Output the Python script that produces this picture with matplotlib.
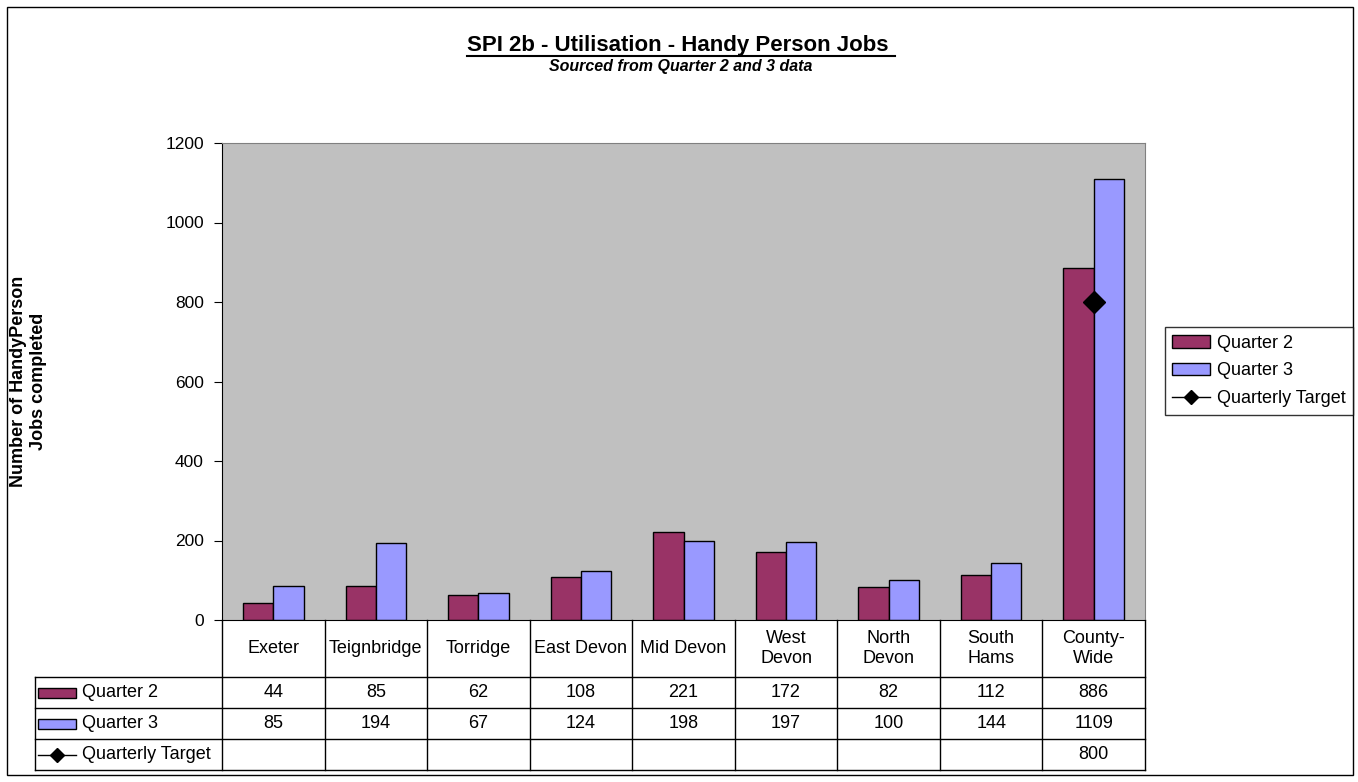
import matplotlib
matplotlib.use("Agg")
import matplotlib.pyplot as plt
import matplotlib.transforms as mtransforms
from matplotlib.lines import Line2D
from matplotlib.patches import Rectangle, Patch
import numpy as np

plt.rcParams["font.family"] = ["Liberation Sans", "DejaVu Sans"]

categories = ["Exeter", "Teignbridge", "Torridge", "East Devon", "Mid Devon",
              "West\nDevon", "North\nDevon", "South\nHams", "County-\nWide"]
quarter2 = [44, 85, 62, 108, 221, 172, 82, 112, 886]
quarter3 = [85, 194, 67, 124, 198, 197, 100, 144, 1109]
target = [None, None, None, None, None, None, None, None, 800]

q2_color = "#993366"
q3_color = "#9999FF"

fig = plt.figure(figsize=(13.58, 7.82), dpi=100)
fig.patches.append(Rectangle((7 / 1358, 7 / 782), 1346 / 1358, 768 / 782,
                             transform=fig.transFigure, fill=False,
                             edgecolor="black", linewidth=1.0))

ax = fig.add_axes([222 / 1358, 1 - 620 / 782, 923 / 1358, 477 / 782])
ax.set_facecolor("#C0C0C0")

x = np.arange(len(categories))
w = 0.295
ax.bar(x - w / 2, quarter2, w, color=q2_color, edgecolor="black", linewidth=1)
ax.bar(x + w / 2, quarter3, w, color=q3_color, edgecolor="black", linewidth=1)
tx = [i for i, v in enumerate(target) if v is not None]
ty = [v for v in target if v is not None]
ax.plot(tx, ty, color="black", marker="D", markersize=11)

ax.set_xlim(-0.5, len(categories) - 0.5)
ax.set_ylim(0, 1200)
ax.set_yticks(range(0, 1201, 200))
ax.set_xticks([])
ax.tick_params(axis="y", labelsize=12.5, length=6, direction="out", pad=7)
for s in ["top", "right"]:
    ax.spines[s].set_color("#808080")
ax.spines["bottom"].set_color("black")

ax.set_ylabel("Number of HandyPerson\nJobs completed", fontsize=13, fontweight="bold",
              labelpad=0)
ax.yaxis.set_label_coords(-0.19, 0.5)

fs = 13

# data table under the axes
trans = mtransforms.blended_transform_factory(ax.transData, ax.transAxes)
h = 477
rows = [0, -57 / h, -88 / h, -119 / h, -150 / h]
left = (35 - 222) / 923
lk = dict(color="black", linewidth=1, clip_on=False)
for xb in np.arange(-0.5, len(categories), 1.0):
    ax.add_line(Line2D([xb, xb], [rows[0], rows[-1]], transform=trans, **lk))
for yb in rows[1:]:
    ax.add_line(Line2D([left, 1], [yb, yb], transform=ax.transAxes, **lk))
ax.add_line(Line2D([left, left], [rows[1], rows[-1]], transform=ax.transAxes, **lk))

for i, c in enumerate(categories):
    ax.text(i, (rows[0] + rows[1]) / 2, c, transform=trans, ha="center", va="center",
            fontsize=fs, linespacing=1.25)
for r, series in enumerate([quarter2, quarter3, target]):
    yc = (rows[r + 1] + rows[r + 2]) / 2
    for i, v in enumerate(series):
        if v is not None:
            ax.text(i, yc, str(v), transform=trans, ha="center", va="center", fontsize=fs)

# row keys
keyx = left + 3 / 923
for r, (name, col) in enumerate([("Quarter 2", q2_color), ("Quarter 3", q3_color)]):
    yc = (rows[r + 1] + rows[r + 2]) / 2
    ax.add_patch(Rectangle((keyx, yc - 5 / h), 38 / 923, 10 / h, transform=ax.transAxes,
                           facecolor=col, edgecolor="black", linewidth=1, clip_on=False))
    ax.text(keyx + 44 / 923, yc, name, transform=ax.transAxes, va="center", fontsize=fs)
yc = (rows[3] + rows[4]) / 2
ax.add_line(Line2D([keyx, keyx + 38 / 923], [yc, yc], transform=ax.transAxes, **lk))
ax.add_line(Line2D([keyx + 19 / 923], [yc], transform=ax.transAxes, marker="D",
                   markersize=7, color="black", clip_on=False))
ax.text(keyx + 44 / 923, yc, "Quarterly Target", transform=ax.transAxes, va="center", fontsize=fs)

handles = [Patch(facecolor=q2_color, edgecolor="black", linewidth=1),
           Patch(facecolor=q3_color, edgecolor="black", linewidth=1),
           Line2D([], [], color="black", marker="D", markersize=7, linewidth=1)]
leg = fig.legend(handles, ["Quarter 2", "Quarter 3", "Quarterly Target"],
                 loc="center left", bbox_to_anchor=(1165 / 1358, 1 - 371 / 782),
                 fontsize=fs, frameon=True, fancybox=False, edgecolor="black",
                 handlelength=2.1, handleheight=0.7, borderpad=0.4, labelspacing=0.6,
                 handletextpad=0.4, borderaxespad=0)
leg.get_frame().set_linewidth(1)

title = fig.text(681 / 1358, 1 - 45 / 782, "SPI 2b - Utilisation - Handy Person Jobs ",
                 ha="center", va="center", fontsize=16, fontweight="bold")
fig.text(681 / 1358, 1 - 67 / 782, "Sourced from Quarter 2 and 3 data", ha="center",
         va="center", fontsize=11.5, fontweight="bold", fontstyle="italic")

fig.canvas.draw()
bb = title.get_window_extent().transformed(fig.transFigure.inverted())
fig.add_artist(Line2D([bb.x0, bb.x1], [bb.y0 - 0.001, bb.y0 - 0.001],
                      transform=fig.transFigure, color="black", linewidth=1.5))

fig.savefig("out.png", dpi=100)
